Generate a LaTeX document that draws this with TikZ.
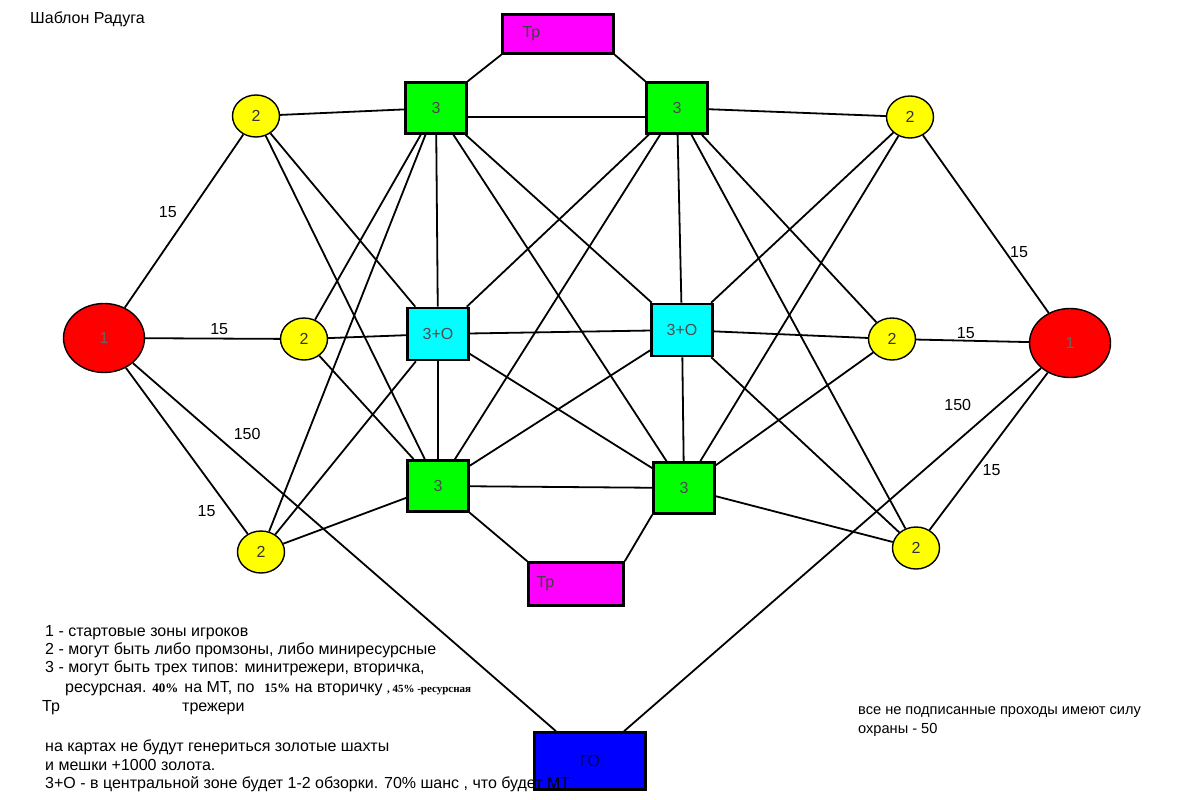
\documentclass[tikz,border=0pt]{standalone}
\usepackage{fontspec}
\setmainfont{Liberation Sans}
\newfontfamily\pctfont{Liberation Serif}
\usetikzlibrary{shapes, positioning, backgrounds}
\definecolor{startred}{RGB}{255,0,0}
\definecolor{zoneyellow}{RGB}{255,255,0}
\definecolor{blockgreen}{RGB}{0,255,0}
\definecolor{centrecyan}{RGB}{0,255,255}
\definecolor{treasurepink}{RGB}{255,0,255}
\definecolor{guardblue}{RGB}{0,0,255}
\tikzstyle{start} = [ellipse, minimum width=81pt, minimum height=69pt, inner sep=0pt, draw=black, line width=1.4pt, fill=startred, text=black!60]
\tikzstyle{zone} = [ellipse, minimum width=47pt, minimum height=42pt, inner sep=0pt, draw=black, line width=1.4pt, fill=zoneyellow, text=black!80]
\tikzstyle{block} = [rectangle, minimum width=61pt, minimum height=51pt, inner sep=0pt, draw=black, line width=2.6pt, fill=blockgreen, text=black!70]
\tikzstyle{centre} = [block, minimum height=52pt, fill=centrecyan]
\tikzstyle{treasure} = [rectangle, inner ysep=0pt, draw=black, line width=2.6pt, fill=treasurepink, align=left, text=black!75]
\tikzstyle{guard} = [rectangle, minimum width=111pt, minimum height=57pt, draw=black, line width=2.6pt, fill=guardblue, text=black!60!blue]
\tikzstyle{pass} = [line width=1.8pt]
\tikzstyle{note} = [anchor=base west, inner sep=0pt]
\newcommand{\pct}[1]{{\pctfont\bfseries\fontsize{13}{15}\selectfont #1}}

\begin{document}
\begin{tikzpicture}[x=1pt, y=-1pt, font=\fontsize{16}{18}\selectfont, background rectangle/.style={fill=white}, show background rectangle, inner frame sep=0pt]
    \useasboundingbox (0, 0) rectangle (1200, 800);

    \node (start1) [start] at (104, 338) {1};
    \node (start2) [start] at (1070, 343) {1};
    \node (left1) [zone] at (256, 116) {2};
    \node (left2) [zone] at (304, 339) {2};
    \node (left3) [zone] at (261, 552) {2};
    \node (right1) [zone] at (910, 117) {2};
    \node (right2) [zone] at (892, 339) {2};
    \node (right3) [zone] at (916, 548) {2};
    \node (mid1) [block] at (436, 108) {3};
    \node (mid2) [block] at (677, 108) {3};
    \node (mid3) [block] at (438, 486) {3};
    \node (mid4) [block] at (684, 488) {3};
    \node (core1) [centre] at (438, 334) {3+О};
    \node (core2) [centre] at (682, 330) {3+О};
    \node (tr1) [treasure, text width=71pt, inner xsep=20pt, minimum height=39pt] at (558, 34) {Тр};
    \node (tr2) [treasure, text width=79pt, inner xsep=8pt, minimum height=43pt] at (576, 584) {Тр};
    \node (guard) [guard] at (590, 761) {ГО};

    % start zones
    \draw [pass] (start1) -- node[pos=0.55, left=9pt] {15} (left1);
    \draw [pass] (start1) -- node[pos=0.55, above] {15} (left2);
    \draw [pass] (start1) -- node[pos=0.86, left=11pt] {15} (left3);
    \draw [pass] (start1) -- node[pos=0.27, above=19pt] {150} (guard);
    \draw [pass] (start2) -- node[pos=0.34, right=0pt] {15} (right1);
    \draw [pass] (start2) -- node[pos=0.56, above=-2pt] {15} (right2);
    \draw [pass] (start2) -- node[pos=0.2, above=26pt] {150} (guard);
    \draw [pass] (start2) -- node[pos=0.62, right=4pt] {15} (right3);

    \draw [pass] (left1) -- (mid1);
    \draw [pass] (left1) -- (core1);
    \draw [pass] (left1) -- (mid3);
    \draw [pass] (left2) -- (core1);
    \draw [pass] (left2) -- (mid1);
    \draw [pass] (left2) -- (mid3);
    \draw [pass] (left3) -- (mid1);
    \draw [pass] (left3) -- (core1);
    \draw [pass] (left3) -- (mid3);
    \draw [pass] (right1) -- (mid2);
    \draw [pass] (right1) -- (core2);
    \draw [pass] (right1) -- (mid4);
    \draw [pass] (right2) -- (core2);
    \draw [pass] (right2) -- (mid2);
    \draw [pass] (right2) -- (mid4);
    \draw [pass] (right3) -- (mid2);
    \draw [pass] (right3) -- (core2);
    \draw [pass] (right3) -- (mid4);

    % centre
    \draw [pass] ([yshift=-9pt]mid1.east) -- ([yshift=-9pt]mid2.west);
    \draw [pass] (mid1) -- (core1);
    \draw [pass] (mid1) -- (core2);
    \draw [pass] (mid1) -- (mid4);
    \draw [pass] (mid2) -- (core2);
    \draw [pass] (mid2) -- (core1);
    \draw [pass] (mid2) -- (mid3);
    \draw [pass] (core1) -- (core2);
    \draw [pass] (core1) -- (mid3);
    \draw [pass] (core1) -- (mid4);
    \draw [pass] (core2) -- (mid4);
    \draw [pass] (core2) -- (mid3);
    \draw [pass] (mid3) -- (mid4);
    \draw [pass] (mid1.north east) -- (tr1.south west);
    \draw [pass] (tr1.south east) -- (mid2.north west);
    \draw [pass] (mid3.south east) -- (tr2.north west);
    \draw [pass] (mid4.south west) -- (tr2.north east);

    % texts
    \node (title) [note] at (30, 24) {Шаблон Радуга};
    \node (note1) [note] at (45, 636) {1 - стартовые зоны игроков};
    \node (note2) [note] at (45, 654) {2 - могут быть либо промзоны, либо миниресурсные};
    \node (note3) [note] at (45, 672) {3 - могут быть трех типов: минитрежери, вторичка,};
    \node (note4) [note] at (65, 692) {ресурсная. \pct{40\%}\hspace{6pt}на МТ, по\hspace{10pt}\pct{15\%} на вторичку {\pctfont\bfseries\fontsize{11}{13}\selectfont, 45\% -ресурсная}};
    \node (note5) [note] at (42, 711) {Тр};
    \node (note6) [note] at (182, 711) {трежери};
    \node (note7) [note] at (45, 751) {на картах не будут генериться золотые шахты};
    \node (note8) [note] at (45, 770) {и мешки +1000 золота.};
    \node (note9) [note] at (45, 788) {3+О - в центральной зоне будет 1-2 обзорки. 70\% шанс , что будет МТ};
    \node (rest1) [note, font=\fontsize{14.6}{17}\selectfont] at (858, 714) {все не подписанные проходы имеют силу};
    \node (rest2) [note, font=\fontsize{14.6}{17}\selectfont] at (858, 733) {охраны - 50};

\end{tikzpicture}
\end{document}
